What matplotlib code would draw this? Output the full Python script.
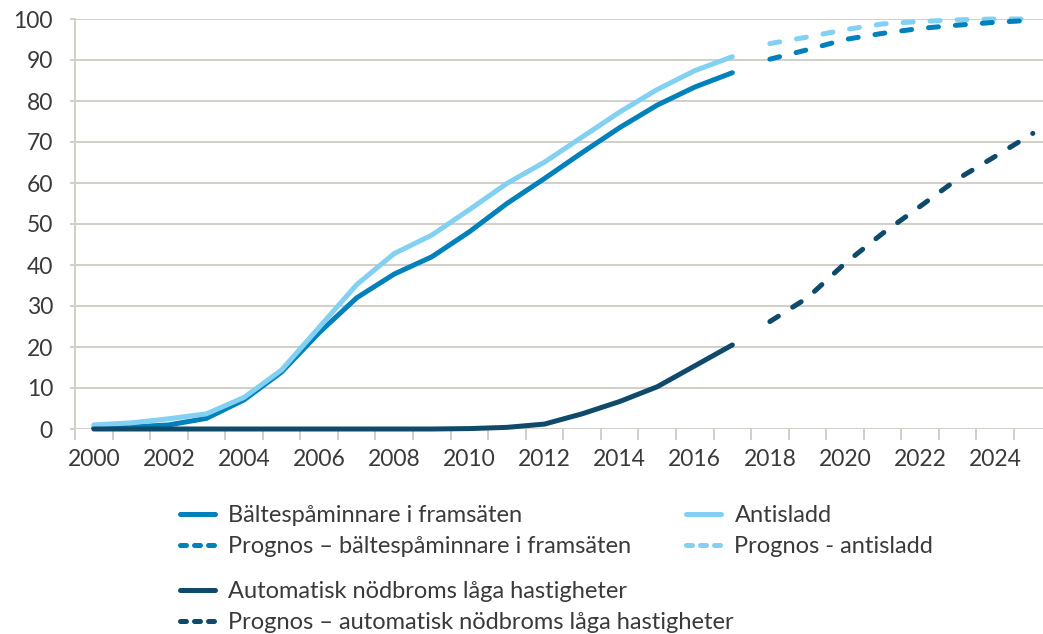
import matplotlib
matplotlib.use("Agg")
import matplotlib.pyplot as plt
from matplotlib.lines import Line2D
from matplotlib.ticker import FixedLocator, NullFormatter

# ---- data ----
years_hist = list(range(2000, 2018))
years_prog = list(range(2018, 2026))
tick_years = list(range(2000, 2025, 2))
y_ticks = [0, 10, 20, 30, 40, 50, 60, 70, 80, 90, 100]

balte = [0.3, 0.5, 1.0, 2.6, 7.1, 13.9, 23.5, 32.0, 37.8, 42.0, 48.1, 55.0, 61.1, 67.4, 73.5, 79.0, 83.4, 86.9]
anti = [1.0, 1.5, 2.5, 3.7, 7.7, 14.4, 24.8, 35.2, 42.8, 47.3, 53.5, 59.9, 65.1, 71.2, 77.3, 82.8, 87.4, 90.8]
nodb = [0, 0, 0, 0, 0, 0, 0, 0, 0, 0, 0.1, 0.4, 1.2, 3.7, 6.7, 10.3, 15.4, 20.5]

prog_balte = [90.2, 92.5, 95.0, 96.5, 97.7, 98.5, 99.2, 99.7]
prog_anti = [94.0, 95.6, 97.4, 98.8, 99.4, 99.8, 100.0, 100.0]
prog_nodb = [26.2, 32.0, 40.4, 47.7, 54.3, 61.0, 66.5, 72.1]

labels = [
    "Bältespåminnare i framsäten",
    "Prognos – bältespåminnare i framsäten",
    "Antisladd",
    "Prognos - antisladd",
    "Automatisk nödbroms låga hastigheter",
    "Prognos – automatisk nödbroms låga hastigheter",
]

# ---- style ----
C_MID = "#0081BB"
C_LIGHT = "#82D0F2"
C_DARK = "#0F4A6B"
C_GRID = "#D3CFC9"
C_TEXT = "#3A3A3A"

plt.rcParams["font.family"] = ["Lato", "DejaVu Sans"]
plt.rcParams["lines.scale_dashes"] = False

W, H = 1043, 634
DPI = 100
fig = plt.figure(figsize=(W / DPI, H / DPI), dpi=DPI)

def px(x):
    return x * 72.0 / DPI  # pixels -> points

ax_left, ax_right, ax_top, ax_bottom = 75, 1051.6, 19, 429
ax = fig.add_axes([ax_left / W, 1 - ax_bottom / H, (ax_right - ax_left) / W, (ax_bottom - ax_top) / H])

LW = px(5)
DASH = (px(10), px(17))

ax.plot(years_hist, balte, color=C_MID, lw=LW, solid_capstyle="round", solid_joinstyle="round", zorder=3, clip_on=False)
ax.plot(years_hist, anti, color=C_LIGHT, lw=LW, solid_capstyle="round", solid_joinstyle="round", zorder=4, clip_on=False)
ax.plot(years_hist, nodb, color=C_DARK, lw=LW, solid_capstyle="round", solid_joinstyle="round", zorder=5, clip_on=False)

ax.plot(years_prog, prog_balte, color=C_MID, lw=LW, dashes=DASH, dash_capstyle="round", zorder=3, clip_on=False)
ax.plot(years_prog, prog_anti, color=C_LIGHT, lw=LW, dashes=DASH, dash_capstyle="round", zorder=2, clip_on=False)
ax.plot(years_prog, prog_nodb, color=C_DARK, lw=LW, dashes=DASH, dash_capstyle="round", zorder=5, clip_on=False)

ax.set_xlim(years_hist[0] - 0.5, years_prog[-1] + 0.5)
ax.set_ylim(0, 100)

for s in ["top", "right", "bottom"]:
    ax.spines[s].set_visible(False)
ax.spines["left"].set_color(C_GRID)
ax.spines["left"].set_linewidth(px(2))
ax.spines["left"].set_zorder(0.5)

ax.set_yticks(y_ticks)
ax.yaxis.grid(True, color=C_GRID, lw=px(2), zorder=0)
ax.set_axisbelow(True)
ax.tick_params(axis="y", length=px(5), width=px(2), color=C_GRID, pad=px(17),
               labelsize=16.5, labelcolor=C_TEXT)

ax.set_xticks(tick_years)
ax.xaxis.set_minor_locator(FixedLocator([y - 0.5 for y in range(years_hist[0], years_prog[-1] + 2)]))
ax.xaxis.set_minor_formatter(NullFormatter())
ax.tick_params(axis="x", which="major", length=0, pad=px(20), labelsize=16.5, labelcolor=C_TEXT)
ax.tick_params(axis="x", which="minor", length=px(11), width=px(2), color=C_GRID)

# ---- legend ----
LEG_DASH = (px(6), px(8))
def h_solid(c):
    return Line2D([], [], color=c, lw=LW, solid_capstyle="round")
def h_dash(c):
    return Line2D([], [], color=c, lw=LW, dashes=LEG_DASH, dash_capstyle="round")

FS = 17
fs_px = FS * DPI / 72.0
common = dict(frameon=False, fontsize=FS, loc="upper left", borderpad=0, borderaxespad=0,
              handlelength=35 / fs_px, handletextpad=14 / fs_px, labelspacing=0.42,
              labelcolor=C_TEXT)

def anchor(x, y):
    return (x / W, 1 - y / H)

leg1 = fig.legend([h_solid(C_MID), h_dash(C_MID)], labels[0:2], bbox_to_anchor=anchor(179.5, 505.5), **common)
leg2 = fig.legend([h_solid(C_LIGHT), h_dash(C_LIGHT)], labels[2:4], bbox_to_anchor=anchor(685.5, 505.5), **common)
leg3 = fig.legend([h_solid(C_DARK), h_dash(C_DARK)], labels[4:6], bbox_to_anchor=anchor(179.5, 581), **common)

fig.savefig("out.png", dpi=DPI)
